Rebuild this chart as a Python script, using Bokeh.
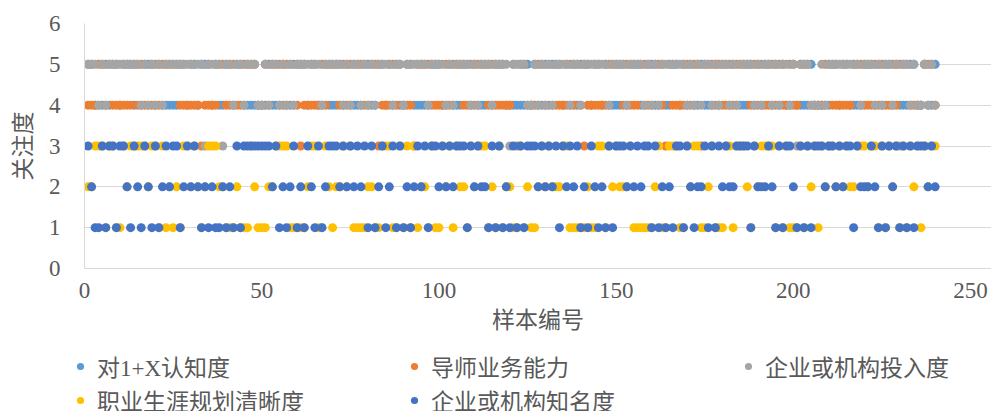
from bokeh.plotting import figure
from bokeh.layouts import column
from bokeh.models import FixedTicker, Legend, LegendItem, Range1d
from bokeh.embed import file_html
from bokeh.resources import INLINE


def digits(s):
    return [int(c) for c in s.replace(" ", "")]


samples = list(range(1, 241))

# 对1+X认知度
s_awareness = digits(
    "5544454554 5554545554 5444445545 5455545445 5455444444 4544454455 "
    "5545544544 4545444455 4455454544 5544444555 4454445545 4445455544 "
    "4444545445 4555454545 5545545444 4545554455 4454455454 5445444545 "
    "5454444545 4554545445 4444544444 5545544445 5545455454 4455445445")
# 导师业务能力
s_mentor = digits(
    "4445545444 4445454445 4555554444 4434444554 4544555544 5455545544 "
    "3444445455 5454555544 5534445454 4435555444 4545554454 5554544444 "
    "5355444554 5444445454 3444444555 5454445544 5543544445 4553555454 "
    "4545555454 5445454454 4555444455 4444445554 4454544545 5544445554")
# 企业或机构投入度
s_input = digits(
    "5554545555 5555545454 5455555555 5553555535 5455455544 5455454545 "
    "5555554555 5545455454 5455554554 5555554555 5454555545 4555455553 "
    "5555445454 5455554554 5555555455 5545555454 5455555554 5454554545 "
    "5454555545 4554545545 3555444545 5555555545 5545455453 5545445454")
# 职业生涯规划清晰度
s_career = digits(
    "2233313311 3233333233 1312121332 3212333221 1121113211 1223333111 "
    "1123311321 2232311112 2113331131 3131221311 3231322132 3331213122 "
    "1131211232 3222331111 1211331323 2223111111 2311333113 2331123111 "
    "3313332132 3333131311 1313231323 3232322333 2331313231 3132313233")
# 企业或机构知名度
s_fame = digits(
    "3211313313 3213213213 1232331232 3212121121 2131333333 3323121231 "
    "2132131233 3232323231 3123123131 2123231332 3232333132 3221313121 "
    "3131333232 3231323231 2132121313 3323232331 3121213313 2122313132 "
    "3223333132 2232131332 1313133323 3232331322 2321313231 3131333232")

series_names = ["对1+X认知度", "导师业务能力", "企业或机构投入度",
                "职业生涯规划清晰度", "企业或机构知名度"]
series_values = [s_awareness, s_mentor, s_input, s_career, s_fame]
series_colors = ["#5B9BD5", "#ED7D31", "#A5A5A5", "#FFC000", "#4472C4"]

x_ticks = [0, 50, 100, 150, 200, 250]
y_ticks = [0, 1, 2, 3, 4, 5, 6]

TXT = "#595959"
SERIF = "Liberation Serif"
MIXED = "Liberation Serif, Noto Sans CJK SC"

# ---- main chart ----
p = figure(width=991, height=340,
           x_range=Range1d(0, 255.9), y_range=Range1d(0, 6),
           output_backend="svg", toolbar_location=None,
           min_border_left=84, min_border_right=0,
           min_border_top=23, min_border_bottom=72)
p.outline_line_color = None
p.background_fill_color = "white"

for vals, col in zip(series_values, series_colors):
    p.scatter(samples, vals, size=9, fill_color=col, line_color=None)

p.xgrid.grid_line_color = None
p.ygrid.grid_line_color = "#D9D9D9"
p.ygrid.grid_line_width = 1

p.xaxis.ticker = FixedTicker(ticks=x_ticks)
p.yaxis.ticker = FixedTicker(ticks=y_ticks)

for ax in (p.xaxis, p.yaxis):
    ax.axis_line_color = "#D9D9D9"
    ax.major_tick_line_color = None
    ax.minor_tick_line_color = None
    ax.major_label_text_font = SERIF
    ax.major_label_text_font_size = "23px"
    ax.major_label_text_color = TXT
    ax.axis_label_text_font = "Noto Sans CJK SC"
    ax.axis_label_text_font_style = "normal"
    ax.axis_label_text_font_size = "23px"
    ax.axis_label_text_color = TXT

p.xaxis.axis_label = "样本编号"
p.yaxis.axis_label = "关注度"
p.xaxis.major_label_standoff = 8
p.xaxis.axis_label_standoff = 0
p.yaxis.major_label_standoff = 18
p.yaxis.axis_label_standoff = 8

# ---- legend strip (same series, plotted out of view; only the legend shows) ----
lg = figure(width=991, height=71, x_range=Range1d(-3, -2), y_range=Range1d(-3, -2),
            x_axis_location=None, y_axis_location=None,
            output_backend="svg", toolbar_location=None,
            min_border_left=71, min_border_right=0,
            min_border_top=9, min_border_bottom=0)
lg.grid.visible = False
lg.outline_line_color = None
if "frame_align" in lg.properties():
    lg.frame_align = False

legend_renderers = []
for vals, col in zip(series_values, series_colors):
    legend_renderers.append(
        lg.scatter(samples, vals, size=9, fill_color=col, line_color=None))

items = [LegendItem(label=n, renderers=[r])
         for n, r in zip(series_names, legend_renderers)]
legend = Legend(items=items, location="top_left", orientation="horizontal",
                ncols=3, glyph_width=18, glyph_height=18, label_standoff=8,
                label_width=308, label_height=20, spacing=-4, padding=0, margin=0,
                border_line_color=None, background_fill_alpha=0,
                label_text_font=MIXED, label_text_font_size="23px",
                label_text_color=TXT)
lg.add_layout(legend, "center")

layout = column(p, lg, spacing=0)
open("out.html", "w").write(file_html(layout, INLINE))
